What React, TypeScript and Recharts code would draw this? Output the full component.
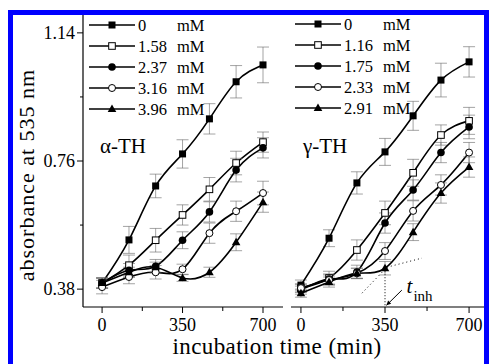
import { LineChart, Line, XAxis, YAxis, ErrorBar, Legend, ReferenceLine, ReferenceDot } from "recharts"

const TIMES = [0, 117, 233, 350, 467, 583, 700]

// alpha-TH panel
const ALPHA_LABELS = ["0", "1.58", "2.37", "3.16", "3.96"]
const ALPHA_0 = [0.398, 0.526, 0.686, 0.781, 0.885, 0.995, 1.045]
const ALPHA_158 = [0.398, 0.451, 0.525, 0.6, 0.676, 0.754, 0.816]
const ALPHA_237 = [0.398, 0.436, 0.448, 0.525, 0.609, 0.733, 0.799]
const ALPHA_316 = [0.386, 0.416, 0.43, 0.439, 0.546, 0.611, 0.665]
const ALPHA_396 = [0.398, 0.43, 0.445, 0.413, 0.43, 0.519, 0.638]

const ALPHA_0_ERR = [0.015, 0.04, 0.035, 0.042, 0.045, 0.048, 0.053]
const ALPHA_158_ERR = [0.015, 0.03, 0.035, 0.03, 0.035, 0.035, 0.03]
const ALPHA_237_ERR = [0.015, 0.02, 0.02, 0.025, 0.03, 0.035, 0.03]
const ALPHA_316_ERR = [0.02, 0.02, 0.02, 0.015, 0.03, 0.03, 0.035]
const ALPHA_396_ERR = [0.015, 0.015, 0.015, 0.01, 0.015, 0.025, 0.03]

// gamma-TH panel
const GAMMA_LABELS = ["0", "1.16", "1.75", "2.33", "2.91"]
const GAMMA_0 = [0.392, 0.531, 0.695, 0.787, 0.894, 1.0, 1.054]
const GAMMA_116 = [0.383, 0.413, 0.496, 0.606, 0.725, 0.837, 0.879]
const GAMMA_175 = [0.377, 0.41, 0.431, 0.576, 0.674, 0.785, 0.861]
const GAMMA_233 = [0.383, 0.407, 0.427, 0.493, 0.612, 0.689, 0.785]
const GAMMA_291 = [0.368, 0.401, 0.427, 0.442, 0.549, 0.665, 0.742]

const GAMMA_0_ERR = [0.015, 0.025, 0.033, 0.04, 0.043, 0.05, 0.045]
const GAMMA_116_ERR = [0.012, 0.02, 0.03, 0.035, 0.04, 0.03, 0.04]
const GAMMA_175_ERR = [0.012, 0.015, 0.02, 0.03, 0.03, 0.03, 0.035]
const GAMMA_233_ERR = [0.012, 0.015, 0.015, 0.025, 0.03, 0.03, 0.03]
const GAMMA_291_ERR = [0.012, 0.015, 0.015, 0.02, 0.025, 0.03, 0.03]

const X_TICKS = [0, 175, 350, 525, 700]
const Y_TICKS = [0.38, 0.57, 0.76, 0.95, 1.14]
const Y_DOMAIN = [0.327, 1.193]

const MARKERS = ["square", "openSquare", "circle", "openCircle", "triangle"]
const FONT = "Liberation Serif, DejaVu Serif, serif"

function buildRows(series: number[][], errors: number[][]) {
  return TIMES.map((t, i) => {
    const row: Record<string, number> = { t }
    series.forEach((s, k) => {
      row[`s${k}`] = s[i]
      row[`e${k}`] = errors[k][i]
    })
    return row
  })
}

const alphaRows = buildRows(
  [ALPHA_0, ALPHA_158, ALPHA_237, ALPHA_316, ALPHA_396],
  [ALPHA_0_ERR, ALPHA_158_ERR, ALPHA_237_ERR, ALPHA_316_ERR, ALPHA_396_ERR]
)
const gammaRows = buildRows(
  [GAMMA_0, GAMMA_116, GAMMA_175, GAMMA_233, GAMMA_291],
  [GAMMA_0_ERR, GAMMA_116_ERR, GAMMA_175_ERR, GAMMA_233_ERR, GAMMA_291_ERR]
)

const txt = { fontFamily: FONT, fill: "#000" }

function Marker({ kind, cx, cy }: { kind: string; cx: number; cy: number }) {
  if (cx == null || cy == null) return null
  switch (kind) {
    case "square":
      return <rect x={cx - 3.5} y={cy - 3.5} width={7} height={7} fill="#000" />
    case "openSquare":
      return <rect x={cx - 3.3} y={cy - 3.3} width={6.6} height={6.6} fill="#fff" stroke="#000" strokeWidth={1} />
    case "circle":
      return <circle cx={cx} cy={cy} r={3.8} fill="#000" />
    case "openCircle":
      return <circle cx={cx} cy={cy} r={3.5} fill="#fff" stroke="#000" strokeWidth={1} />
    default:
      return <polygon points={`${cx},${cy - 4.5} ${cx - 4.3},${cy + 3} ${cx + 4.3},${cy + 3}`} fill="#000" />
  }
}

const XTick = (props: any) => {
  const { x, y, payload } = props
  const major = payload.value % 350 === 0
  return (
    <g>
      <line x1={x} y1={y} x2={x} y2={y + (major ? 6 : 4)} stroke="#000" />
      {major && (
        <text x={x} y={y + 24} textAnchor="middle" fontSize={18} style={txt}>
          {payload.value}
        </text>
      )}
    </g>
  )
}

const YTick = (props: any) => {
  const { x, y, payload } = props
  const major = Math.round(payload.value * 100) % 38 === 0
  return (
    <g>
      <line x1={x} y1={y} x2={x - (major ? 6 : 3)} y2={y} stroke="#000" />
      {major && (
        <text x={x - 8} y={y} dy="0.35em" textAnchor="end" fontSize={18} style={txt}>
          {payload.value.toFixed(2)}
        </text>
      )}
    </g>
  )
}

function LegendBox({ labels }: { labels: string[] }) {
  return (
    <svg width={150} height={108} style={{ display: "block" }}>
      {labels.map((lab, i) => {
        const y = 11 + 21 * i
        return (
          <g key={lab}>
            <line x1={3} x2={49} y1={y} y2={y} stroke="#000" strokeWidth={1.6} />
            <Marker kind={MARKERS[i]} cx={26} cy={y} />
            <text x={52} y={y} dy="0.35em" fontSize={16.5} style={txt}>
              {lab}
            </text>
            <text x={91} y={y} dy="0.35em" fontSize={16.5} style={txt}>
              mM
            </text>
          </g>
        )
      })}
    </svg>
  )
}

function seriesLines(labels: string[]) {
  return labels.map((lab, k) => (
    <Line
      key={lab}
      dataKey={`s${k}`}
      name={`${lab} mM`}
      type="natural"
      stroke="#000"
      strokeWidth={1.6}
      isAnimationActive={false}
      dot={(p: any) => <Marker key={`${lab}-${p.index}`} kind={MARKERS[k]} cx={p.cx} cy={p.cy} />}
      activeDot={false}
    >
      <ErrorBar dataKey={`e${k}`} direction="y" width={6} stroke="#666" strokeWidth={0.6} isAnimationActive={false} />
    </Line>
  ))
}

const Arrow = (p: any) => {
  const { x1, y1, x2, y2 } = p
  const a = Math.atan2(y2 - y1, x2 - x1)
  const h = 5
  const pts = [
    [x2, y2],
    [x2 - h * Math.cos(a - 0.45), y2 - h * Math.sin(a - 0.45)],
    [x2 - h * Math.cos(a + 0.45), y2 - h * Math.sin(a + 0.45)],
  ]
  return (
    <g>
      <line x1={x1} y1={y1} x2={x2} y2={y2} stroke="#000" strokeWidth={1} />
      <polygon points={pts.map((q) => q.join(",")).join(" ")} fill="#000" />
    </g>
  )
}

export default function App() {
  return (
    <div style={{ position: "absolute", left: 0, top: 0, width: 489, height: 364, overflow: "hidden", background: "#fff", fontFamily: FONT }}>
      <div style={{ position: "absolute", left: 0, top: 0 }}>
        <LineChart width={489} height={364} data={alphaRows} margin={{ top: 15, right: 206, bottom: 0, left: 0 }}>
          <XAxis
            type="number"
            dataKey="t"
            domain={[-83, 787]}
            ticks={X_TICKS}
            tickSize={0}
            tickMargin={0}
            tickLine={false}
            tick={<XTick />}
            height={57}
            axisLine={{ stroke: "#000", strokeWidth: 1.2 }}
          />
          <YAxis
            type="number"
            domain={Y_DOMAIN}
            ticks={Y_TICKS}
            tickSize={0}
            tickMargin={0}
            tickLine={false}
            tick={<YTick />}
            width={83}
            axisLine={{ stroke: "#000", strokeWidth: 1.2 }}
          />
          {seriesLines(ALPHA_LABELS)}
          <ReferenceDot
            x={-9}
            y={0.784}
            r={0}
            shape={(p: any) => (
              <text x={p.cx} y={p.cy} fontSize={21} style={txt}>
                α-TH
              </text>
            )}
          />
          <Legend
            layout="horizontal"
            verticalAlign="middle"
            align="center"
            content={() => <LegendBox labels={ALPHA_LABELS} />}
            wrapperStyle={{ left: 86, top: 14, width: 150, height: 108 }}
          />
          <text x={277} y={354} textAnchor="middle" fontSize={23} style={txt} letterSpacing={0.4}>
            incubation time (min)
          </text>
          <text
            x={26}
            y={175}
            transform="rotate(-90 26 175)"
            textAnchor="middle"
            dy="0.35em"
            fontSize={22}
            style={txt}
            letterSpacing={1}
          >
            absorbance at 535 nm
          </text>
        </LineChart>
      </div>
      <div style={{ position: "absolute", left: 291, top: 0 }}>
        <LineChart width={198} height={364} data={gammaRows} margin={{ top: 15, right: 0, bottom: 0, left: 0 }}>
          <XAxis
            type="number"
            dataKey="t"
            domain={[-41.4, 783]}
            ticks={X_TICKS}
            tickSize={0}
            tickMargin={0}
            tickLine={false}
            tick={<XTick />}
            height={57}
            axisLine={{ stroke: "#000", strokeWidth: 1.2 }}
          />
          <YAxis type="number" domain={Y_DOMAIN} hide />
          <ReferenceLine segment={[{ x: 254, y: 0.368 }, { x: 358, y: 0.445 }]} stroke="#000" strokeDasharray="1 3" />
          <ReferenceLine segment={[{ x: 358, y: 0.445 }, { x: 504, y: 0.472 }]} stroke="#000" strokeDasharray="1 3" />
          <ReferenceLine segment={[{ x: 350, y: 0.442 }, { x: 350, y: 0.33 }]} stroke="#000" strokeDasharray="1 2" />
          <ReferenceLine segment={[{ x: 420, y: 0.377 }, { x: 356, y: 0.332 }]} shape={Arrow} />
          {seriesLines(GAMMA_LABELS)}
          <ReferenceDot
            x={8.6}
            y={0.784}
            r={0}
            shape={(p: any) => (
              <text x={p.cx} y={p.cy} fontSize={21} style={txt}>
                γ-TH
              </text>
            )}
          />
          <ReferenceDot
            x={440}
            y={0.37}
            r={0}
            shape={(p: any) => (
              <text x={p.cx} y={p.cy} style={txt}>
                <tspan fontStyle="italic" fontSize={21}>t</tspan>
                <tspan fontSize={15} dx={1} dy={8}>inh</tspan>
              </text>
            )}
          />
          <Legend
            layout="horizontal"
            verticalAlign="middle"
            align="center"
            content={() => <LegendBox labels={GAMMA_LABELS} />}
            wrapperStyle={{ left: 1, top: 13, width: 150, height: 108 }}
          />
        </LineChart>
      </div>
      <div
        style={{
          position: "absolute",
          left: 8,
          top: 10,
          width: 481,
          height: 370,
          boxSizing: "border-box",
          border: "5px solid #0000ff",
          pointerEvents: "none",
        }}
      />
    </div>
  )
}
